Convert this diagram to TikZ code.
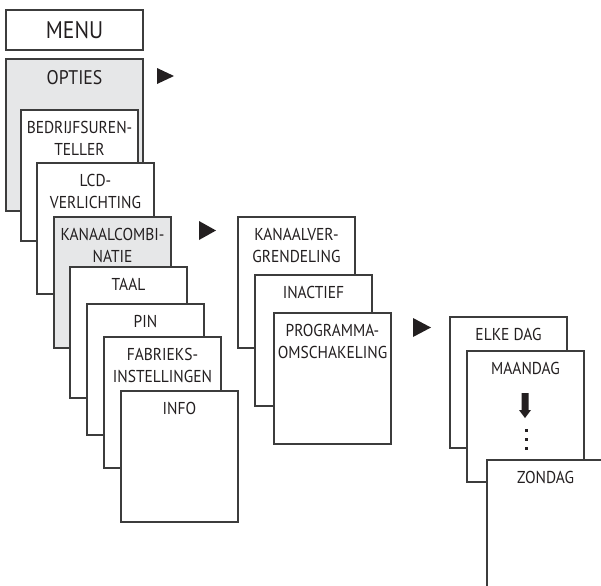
\documentclass[tikz,border=0pt]{standalone}
\usepackage{fontspec}
\setmainfont{PT Sans}[FakeStretch=0.9]
\usetikzlibrary{positioning}
\definecolor{boxgray}{HTML}{E6E7E8}
\definecolor{edge}{HTML}{3C3C3C}
\definecolor{ink}{HTML}{231F20}
\tikzset{
  screen/.style={draw=edge, line width=0.8pt, fill=white, anchor=north west,
    inner sep=0pt, outer sep=0pt, minimum width=87.75pt, minimum height=98.25pt},
  active/.style={screen, fill=boxgray},
  lbl/.style={anchor=north, inner sep=0pt, align=center, text=ink,
    font=\fontsize{12.9}{17}\selectfont},
  pointer/.style={fill=ink}
}

\begin{document}
\begin{tikzpicture}[x=0.75pt,y=-0.75pt]
\useasboundingbox (0,0) rectangle (601,586);
\clip (0,0) rectangle (601,586);
%main menu column
\node[screen, minimum width=102.75pt, minimum height=30pt] (menu) at (6,10) {};
\node[lbl, anchor=center, font=\fontsize{18}{20}\selectfont] (menu-t) at (menu.center) {MENU};
\node[active, minimum width=102.75pt, minimum height=114pt] (opties) at (6,59) {};
\node[lbl, below=8.5pt of opties.north, font=\fontsize{14.8}{17}\selectfont] (opties-t) {OPTIES};
\node[screen] (bedrijf) at (21,110) {};
\node[lbl, below=8pt of bedrijf.north] (bedrijf-t) {BEDRIJFSUREN-\\TELLER};
\node[screen] (lcd) at (37,163) {};
\node[lbl, below=8pt of lcd.north] (lcd-t) {LCD-\\VERLICHTING};
\node[active] (kanaal) at (54,217) {};
\node[lbl, below=8pt of kanaal.north] (kanaal-t) {KANAALCOMBI-\\NATIE};
\node[screen] (taal) at (70,267) {};
\node[lbl, below=8pt of taal.north] (taal-t) {TAAL};
\node[screen] (pin) at (87,304) {};
\node[lbl, below=8pt of pin.north] (pin-t) {PIN};
\node[screen] (fabriek) at (104,337) {};
\node[lbl, below=8pt of fabriek.north] (fabriek-t) {FABRIEKS-\\INSTELLINGEN};
\node[screen] (info) at (121,391) {};
\node[lbl, below=8pt of info.north] (info-t) {INFO};
%channel combination column
\node[screen] (vergr) at (238,217) {};
\node[lbl, below=8pt of vergr.north] (vergr-t) {KANAALVER-\\GRENDELING};
\node[screen] (inactief) at (255,275) {};
\node[lbl, below=8pt of inactief.north] (inactief-t) {INACTIEF};
\node[screen] (omschak) at (274,313) {};
\node[lbl, below=8pt of omschak.north] (omschak-t) {PROGRAMMA-\\OMSCHAKELING};
%day column
\node[screen] (elke) at (450,317) {};
\node[lbl, below=8pt of elke.north] (elke-t) {ELKE DAG};
\node[screen] (maandag) at (467,351) {};
\node[lbl, below=8pt of maandag.north] (maandag-t) {MAANDAG};
\node[screen] (zondag) at (487,460) {};
\node[lbl, below=8pt of zondag.north] (zondag-t) {ZONDAG};
%pointers
\fill[pointer] (157,68) -- (174,76) -- (157,84) -- cycle;
\fill[pointer] (199,221) -- (216,230.5) -- (199,240) -- cycle;
\fill[pointer] (413,318) -- (431,327.5) -- (413,337) -- cycle;
%down arrow and dots
\fill[pointer] (521.5,393) -- (528.5,393) -- (528.5,410) -- (531,410) -- (525,418) -- (519,410) -- (521.5,410) -- cycle;
\foreach \y in {430,439,448}
  \fill[pointer] (524.5,\y-1.5) rectangle +(3,3);
\end{tikzpicture}
\end{document}
